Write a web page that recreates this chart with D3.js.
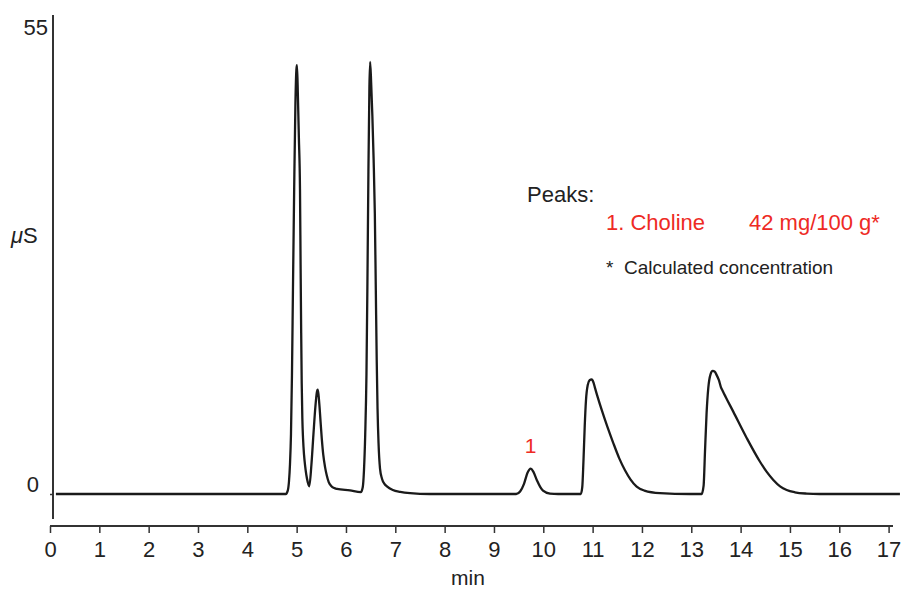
<!DOCTYPE html>
<html>
<head>
<meta charset="utf-8">
<script src="https://cdn.jsdelivr.net/npm/d3@7"></script>
<style>
body{margin:0;background:#fff;}
svg text{font-family:"Liberation Sans",Arial,Helvetica,sans-serif;}
</style>
</head>
<body>
<div id="chart"></div>
<script>
// trace: time (min) and signal (uS)
const times = [0.12,4.78,4.82,4.845,4.865,4.885,4.905,4.925,4.95,4.975,4.995,5.007,5.025,5.045,5.068,5.08,5.092,5.103,5.115,5.13,5.15,5.17,5.195,5.225,5.256,5.30,5.34,5.38,5.41,5.427,5.445,5.465,5.485,5.51,5.54,5.575,5.61,5.65,5.70,5.76,5.818,6.08,6.30,6.34,6.365,6.39,6.415,6.435,6.455,6.475,6.49,6.51,6.535,6.56,6.585,6.605,6.623,6.64,6.66,6.69,6.73,6.78,6.83,6.95,7.1,7.3,7.7,9.45,9.53,9.609,9.68,9.745,9.80,9.872,9.94,9.994,10.136,10.3,10.76,10.79,10.815,10.84,10.865,10.90,10.94,10.981,11.02,11.048,11.184,11.30,11.419,11.54,11.656,11.77,11.893,12.05,12.366,12.97,13.21,13.25,13.278,13.31,13.345,13.39,13.434,13.475,13.515,13.56,13.60,13.64,13.70,13.851,14.123,14.393,14.53,14.663,14.80,14.934,15.1,15.34,15.6,17.23];
const signal = [0,0,0.4,1.5,3.5,7,14,24,36,46,50,50.5,47,42,35.8,27,19,13,9,6.5,4.6,3.4,2.3,1.4,0.9,3.5,7,10.3,12,12.3,11.6,10.2,8.5,6.5,4.6,3.2,2.2,1.4,0.95,0.7,0.6,0.42,0.22,0.8,2.8,7,14,25,38,48,50.9,48.5,44.5,39.5,33,24,15.8,10,6,3,1.8,1.2,0.9,0.47,0.25,0.1,0,0,0.3,1.2,2.5,3.0,2.6,1.6,0.8,0.4,0.05,0,0,0.8,4,8,11,12.8,13.4,13.5,13.1,12.5,9.9,7.9,6.0,4.2,2.8,1.7,0.86,0.4,0.1,0,0,1,5,9.5,12.5,14.1,14.5,14.4,14.0,13.4,12.6,12.1,11.4,9.7,6.6,3.8,2.6,1.65,0.9,0.47,0.2,0.05,0,0];
const xTicks = d3.range(0, 18);
const yTicks = [0, 55];
const peakNames = ["1. Choline"];
const peakConc = ["42 mg/100 g*"];
const peakTimes = [9.745];
const peakHeights = [3.0];

const W = 901, H = 589;
const svg = d3.select("#chart").append("svg").attr("width", W).attr("height", H);

let x = d3.scaleLinear().domain([0, 17]).range([50, 888.6]);
let y = d3.scaleLinear().domain([0, 55]).range([494, 27]);

/* x axis */
let gx = svg.append("g").attr("transform", "translate(0,526)")
  .call(d3.axisBottom(x).tickValues(xTicks).tickSize(7).tickSizeOuter(0).tickPadding(8));
gx.select(".domain").attr("d", "M50,0H893").attr("stroke", "#333").attr("stroke-width", 2);
gx.selectAll(".tick line").attr("stroke", "#333").attr("stroke-width", 1.5);
gx.selectAll(".tick text").attr("font-size", 22).attr("fill", "#222")
  .attr("font-family", "Liberation Sans, Arial, sans-serif");

/* y axis */
svg.append("line").attr("x1", 53).attr("x2", 53).attr("y1", 15).attr("y2", 519)
  .attr("stroke", "#333").attr("stroke-width", 2);
let gy = svg.append("g").attr("transform", "translate(53,0)")
  .call(d3.axisLeft(y).tickValues(yTicks).tickSize(3).tickPadding(6));
gy.select(".domain").remove();
gy.selectAll(".tick line").attr("stroke", "#333").attr("stroke-width", 1.5)
  .attr("opacity", d => d == 0 ? 1 : 0);
gy.selectAll(".tick text").attr("font-size", 22).attr("fill", "#222")
  .attr("font-family", "Liberation Sans, Arial, sans-serif")
  .attr("x", d => d == 0 ? -14 : -5)
  .attr("dy", d => d == 0 ? "-0.1em" : "0.32em");

svg.append("text").attr("x", 468).attr("y", 585).attr("text-anchor", "middle")
  .attr("font-size", 21).attr("fill", "#222").text("min");
let ylab = svg.append("text").attr("x", 11).attr("y", 243).attr("font-size", 22).attr("fill", "#222");
ylab.append("tspan").attr("font-style", "italic").text("\u03bc");
ylab.append("tspan").text("S");

/* trace */
let pts = times.map((t, i) => [t, signal[i]]);
let line = d3.line().x(d => x(d[0])).y(d => y(d[1])).curve(d3.curveMonotoneX);
svg.append("path").datum(pts).attr("d", line).attr("fill", "none")
  .attr("stroke", "#1a1a1a").attr("stroke-width", 2.3).attr("stroke-linejoin", "round");

/* peak labels */
svg.selectAll(".pk").data(peakTimes).enter().append("text").attr("class", "pk")
  .attr("x", d => x(d)).attr("y", (d, i) => y(peakHeights[i]) - 16)
  .attr("text-anchor", "middle").attr("font-size", 21).attr("fill", "#ee2a24")
  .text((d, i) => i + 1);

svg.append("text").attr("x", 527).attr("y", 202).attr("font-size", 22).attr("fill", "#222").text("Peaks:");
peakNames.forEach((n, i) => {
  svg.append("text").attr("x", 606).attr("y", 230 + i * 28).attr("font-size", 22).attr("fill", "#ee2a24").text(n);
  svg.append("text").attr("x", 749).attr("y", 230 + i * 28).attr("font-size", 22).attr("fill", "#ee2a24").text(peakConc[i]);
});
svg.append("text").attr("x", 606).attr("y", 274).attr("font-size", 19).attr("fill", "#222")
  .attr("xml:space", "preserve").text("*  Calculated concentration");
</script>
</body>
</html>
